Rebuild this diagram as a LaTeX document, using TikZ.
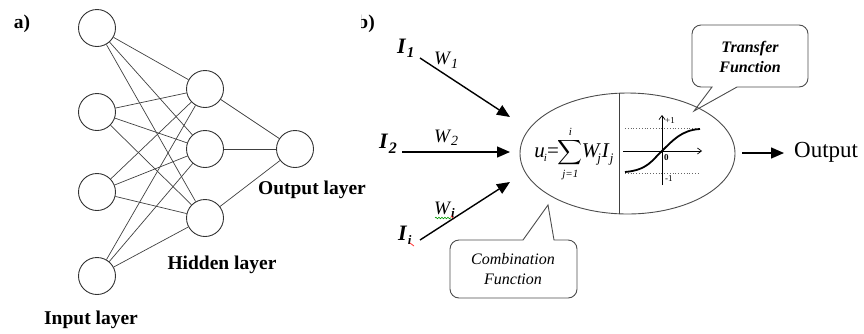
\documentclass[tikz,border=0pt]{standalone}
\usepackage{exscale}
\usepackage{fontspec}
\setmainfont{Liberation Serif}
\usetikzlibrary{arrows.meta,shapes.geometric,decorations.pathmorphing}
\begin{document}
\begin{tikzpicture}[x=1pt,y=-1pt,
  neuron/.style={draw=black!80, line width=0.9pt, circle, minimum size=37pt, inner sep=0pt},
  link/.style={draw=black!75, line width=0.7pt},
  lbl/.style={font=\fontsize{19.5}{20}\selectfont\bfseries, inner sep=0pt},
  inarrow/.style={line width=1.4pt, -{Triangle[length=13pt,width=11pt]}},
  ilabel/.style={font=\fontsize{22}{22}\selectfont\bfseries\itshape, inner sep=0pt, anchor=base west},
  wlabel/.style={font=\fontsize{19}{19}\selectfont\itshape, inner sep=0pt, anchor=base west},
  callout/.style={draw=black!70, line width=0.9pt},
  calltext/.style={align=center, inner sep=0pt, font=\fontsize{16}{20}\selectfont\itshape},
  axis/.style={line width=0.7pt, -{Straight Barb[length=4pt,width=6pt]}},
  guide/.style={draw=black!60, dotted, line width=0.8pt},
  small/.style={font=\fontsize{9}{9}\selectfont, inner sep=0pt}
]
\useasboundingbox (0,0) rectangle (864,333);

% ---------------- panel a ----------------
\node[lbl] (alab) at (22,24) {a)};
\node[neuron] (i1) at (97,28) {};
\node[neuron] (i2) at (97,112) {};
\node[neuron] (i3) at (97,192) {};
\node[neuron] (i4) at (97,276) {};
\node[neuron] (h1) at (205,89) {};
\node[neuron] (h2) at (205,149) {};
\node[neuron] (h3) at (205,218) {};
\node[neuron] (o1) at (295,149) {};
\foreach \i in {i1,i2,i3,i4}{
  \foreach \h in {h1,h2,h3}{
    \draw[link] (\i) -- (\h);
  }
}
\foreach \h in {h1,h2,h3}{
  \draw[link] (\h) -- (o1);
}
\node[lbl] (olab) at (312,190) {Output layer};
\node[lbl] (hlab) at (222,265) {Hidden layer};
\node[lbl] (ilab) at (91,320) {Input layer};

% ---------------- panel b ----------------
\begin{scope}
  \clip (361,0) rectangle (400,50);
  \node[lbl, anchor=east] (blab) at (375,24) {b)};
\end{scope}

\node[ilabel] (I1) at (397,53) {I\kern1pt\raisebox{-4pt}{\fontsize{15}{15}\selectfont 1}};
\node[ilabel] (I2) at (379,148) {I\kern1pt\raisebox{-5pt}{\fontsize{16}{16}\selectfont 2}};
\node[ilabel] (Ii) at (398,240) {I\kern1pt\raisebox{-4pt}{\fontsize{13}{13}\selectfont i}};
\node[wlabel] (W1) at (434,64) {W\kern1pt\raisebox{-4pt}{\fontsize{14}{14}\selectfont 1}};
\node[wlabel] (W2) at (434,142) {W\kern1pt\raisebox{-3pt}{\fontsize{14}{14}\selectfont 2}};
\node[wlabel] (Wi) at (434,214) {W\kern1pt\raisebox{-3pt}{\fontsize{13}{13}\selectfont\bfseries i}};
\draw[green!60!black, line width=0.6pt, decorate, decoration={snake, amplitude=0.8pt, segment length=3pt}] (435,218) -- (451,218);
\draw[red!80, line width=0.8pt] (451,216) -- (454,219);
\draw[red!80, line width=0.8pt] (410,243) -- (414,246);

\coordinate (a1s) at (420,58);
\coordinate (a1e) at (510,117);
\coordinate (a2s) at (402,152);
\coordinate (a2e) at (510,152);
\coordinate (a3s) at (420,240);
\coordinate (a3e) at (510,182);
\draw[inarrow] (a1s) -- (a1e);
\draw[inarrow] (a2s) -- (a2e);
\draw[inarrow] (a3s) -- (a3e);

% neuron body
\node[draw=black!70, line width=0.9pt, ellipse, minimum width=215pt, minimum height=121pt, inner sep=0pt] (E) at (627.5,153.5) {};
\coordinate (dtop) at (619,93.3);
\coordinate (dbot) at (619,213.7);
\draw[draw=black!75, line width=0.9pt] (dtop) -- (dbot);

% combination formula
\node[inner sep=0pt, font=\fontsize{21}{21}\selectfont] (F) at (574,154)
  {\itshape u\kern-1pt\raisebox{-4pt}{\fontsize{11}{11}\selectfont i}\upshape=\kern-1pt{\fontsize{17}{17}\selectfont$\displaystyle\sum_{\mbox{\fontsize{11}{11}\selectfont\itshape j=1}}^{\mbox{\fontsize{11}{11}\selectfont\itshape i}}$}\kern-1pt\itshape W\kern-2pt\raisebox{-5pt}{\fontsize{13}{13}\selectfont j}\kern1pt I\kern1pt\raisebox{-5pt}{\fontsize{13}{13}\selectfont j}};

% transfer function plot
\coordinate (vb) at (662,185);
\coordinate (vt) at (662,115);
\coordinate (hl) at (623,151);
\coordinate (hr) at (702,151);
\coordinate (ul) at (625,128);
\coordinate (ur) at (698,128);
\coordinate (ll) at (625,173);
\coordinate (lr) at (698,173);
\draw[guide] (ul) -- (ur);
\draw[guide] (ll) -- (lr);
\draw[axis] (vb) -- (vt);
\draw[axis] (hl) -- (hr);
\draw[line width=1.8pt] (625,172) .. controls (648,170) and (652,160) .. (662,151)
  .. controls (673,140) and (682,130) .. (700,129);
\node[small, anchor=west] (p1) at (665,121) {+1};
\node[small, anchor=west, font=\fontsize{9}{9}\selectfont\bfseries] (z0) at (664,158) {0};
\node[small, anchor=west] (m1) at (665,179) {-1};

% output
\coordinate (os) at (742,153);
\coordinate (oe) at (784,153);
\draw[inarrow] (os) -- (oe);
\node[inner sep=0pt, anchor=west, font=\fontsize{23}{23}\selectfont] (out) at (794,152) {Output};

% transfer callout
\draw[callout] (712,87) -- (694,111) -- (737,87) [rounded corners=9pt] -- (808,87) -- (808,25) -- (692,25) -- (692,87) [sharp corners] -- cycle;
\node[calltext, font=\fontsize{16}{20}\selectfont\bfseries\itshape] (TF) at (750,57) {Transfer\\Function};

% combination callout
\draw[callout] (523,240) -- (548,205) -- (554,240) [rounded corners=9pt] -- (577,240) -- (577,298) -- (450,298) -- (450,240) [sharp corners] -- cycle;
\node[calltext] (CF) at (513,269) {Combination\\Function};
\end{tikzpicture}
\end{document}
